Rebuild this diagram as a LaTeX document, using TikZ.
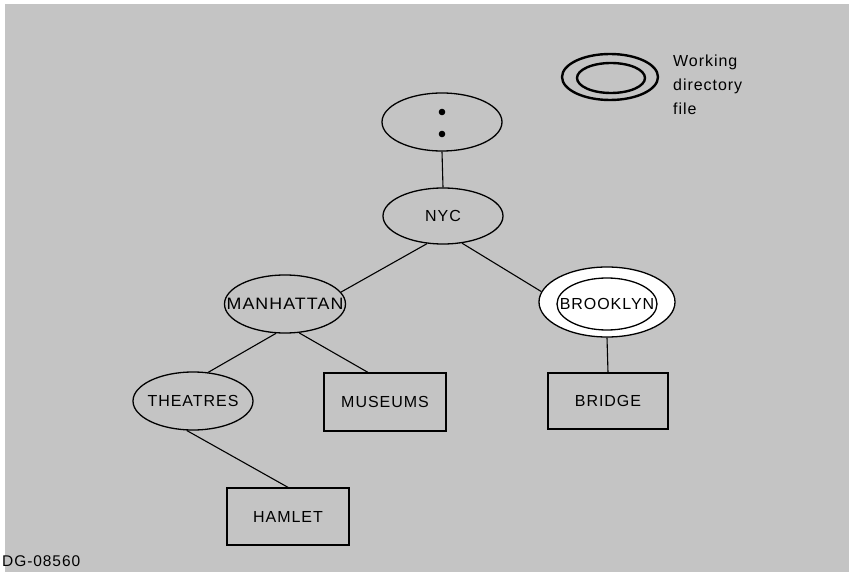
\documentclass[tikz,border=0pt]{standalone}
\usepackage{fontspec}
\setmainfont{Liberation Sans}
\newfontfamily\lbl[LetterSpace=6]{Liberation Sans}
\usetikzlibrary{shapes.geometric}
\definecolor{paper}{gray}{0.77}
\tikzset{
  lab/.style={font=\lbl\fontsize{16}{19}\selectfont, inner sep=0pt},
  dirnode/.style={ellipse, draw, line width=1.3pt, fill=paper, inner sep=0pt},
  filebox/.style={lab, rectangle, draw, line width=1.3pt, fill=paper},
  link/.style={line width=1.1pt}
}
\begin{document}
\begin{tikzpicture}[x=1pt,y=-1pt]
\useasboundingbox (0,0) rectangle (849,572);
\fill[white] (0,0) rectangle (849,572);
\fill[paper] (5,4) rectangle (849,572);

% legend: double ellipse marks the working directory
\node[ellipse, draw, line width=2.4pt, minimum width=96pt, minimum height=46pt, inner sep=0pt] (keyout) at (610,77) {};
\node[ellipse, draw, line width=2.4pt, minimum width=68pt, minimum height=30pt, inner sep=0pt] (keyin) at (611,78) {};
\node[lab, anchor=north west, align=left, font=\lbl\fontsize{16}{24}\selectfont] (keytext) at (673,55) {Working\\directory\\file};

% directory tree: ellipses are directories, boxes are files
\node[dirnode, minimum width=120pt, minimum height=58pt] (root) at (442,122) {};
\fill (root.center) ++(0,-10) circle (3.3pt) coordinate (dotA);
\fill (root.center) ++(0,12) circle (3.3pt) coordinate (dotB);
\node[dirnode, minimum width=120pt, minimum height=56pt] (nyc) at (443,216) {};
\node[lab] (nyctext) at (nyc.center) {NYC};
\node[dirnode, minimum width=121pt, minimum height=58pt] (man) at (285,304) {};
\node[lab, font=\lbl\fontsize{16.5}{19}\selectfont, xscale=1.08] (mantext) at (man.center) {MANHATTAN};
\node[dirnode, fill=white, minimum width=136pt, minimum height=70pt] (bro) at (607,302) {};
\node[dirnode, fill=white, minimum width=100pt, minimum height=52pt] (broin) at (607,304) {};
\node[lab] (brotext) at (broin.center) {BROOKLYN};
\node[dirnode, minimum width=120pt, minimum height=58pt] (the) at (193,401) {};
\node[lab] (thetext) at (the.center) {THEATRES};
\node[filebox, minimum width=122pt, minimum height=58pt] (mus) at (385,402) {MUSEUMS};
\node[filebox, minimum width=120pt, minimum height=56pt] (bridge) at (608,401) {BRIDGE};
\node[filebox, minimum width=122pt, minimum height=57pt] (ham) at (288,516.5) {HAMLET};

\draw[link] (root.south) -- (nyc.north);
\draw[link] (nyc.240) -- (man.12);
\draw[link] (nyc.305) -- (bro.171);
\draw[link] (man.253) -- (the.62);
\draw[link] (man.296) -- (mus.120);
\draw[link] (the.258) -- (ham.north);
\draw[link] (bro.south) -- (bridge.north);

\node[anchor=west, inner sep=0pt, font=\lbl\fontsize{15.5}{18}\selectfont] (tag) at (2,561) {DG-08560};
\end{tikzpicture}
\end{document}
